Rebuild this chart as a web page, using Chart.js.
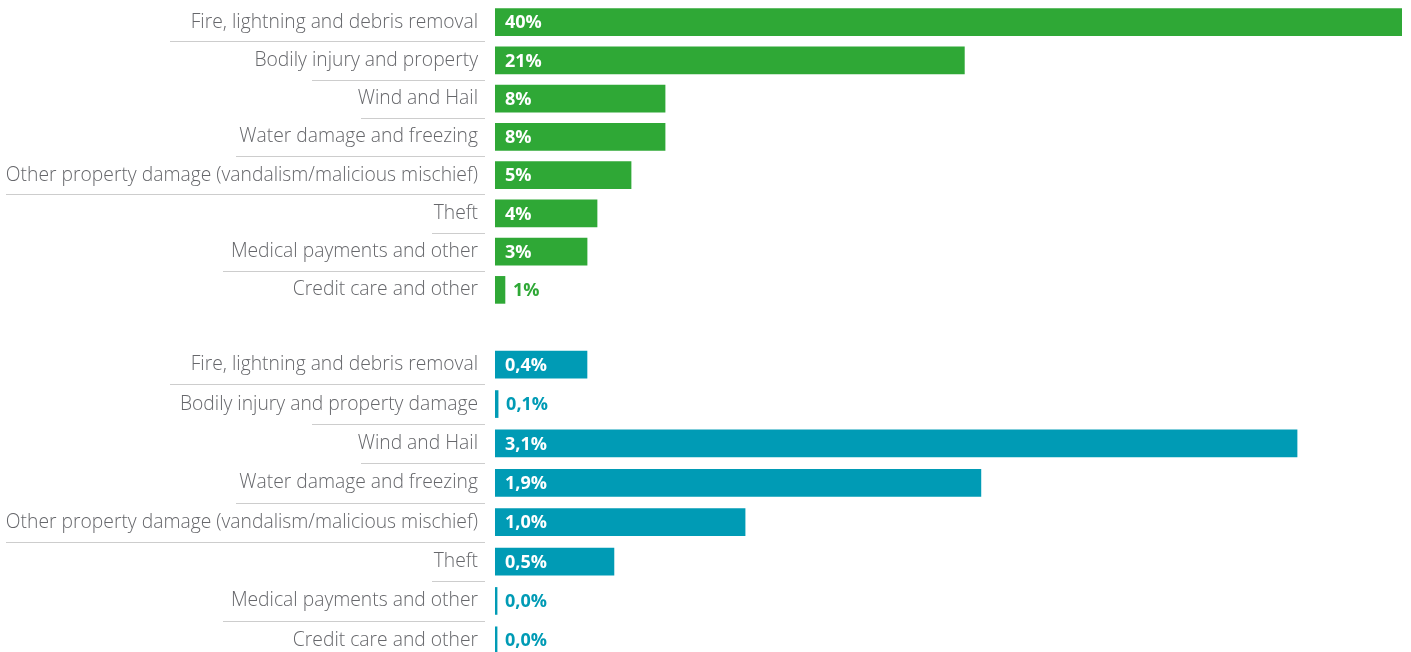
<!DOCTYPE html>
<html>
<head>
<meta charset="utf-8">
<script src="https://cdn.jsdelivr.net/npm/chart.js@4"></script>
<style>
  html, body { margin: 0; padding: 0; background: #fff; overflow: hidden; }
  #wrap { position: relative; width: 1411px; height: 652px; }
  #topChart { position: absolute; left: 0; top: 0; }
  #bottomChart { position: absolute; left: 0; top: 345px; }
</style>
</head>
<body>
<div id="wrap">
  <canvas id="topChart" width="1411" height="312"></canvas>
  <canvas id="bottomChart" width="1411" height="316"></canvas>
</div>
<script>
// categorias (grupo de cima e de baixo)
const topLabels = [
  'Fire, lightning and debris removal',
  'Bodily injury and property',
  'Wind and Hail',
  'Water damage and freezing',
  'Other property damage (vandalism/malicious mischief)',
  'Theft',
  'Medical payments and other',
  'Credit care and other'
];
const bottomLabels = [
  'Fire, lightning and debris removal',
  'Bodily injury and property damage',
  'Wind and Hail',
  'Water damage and freezing',
  'Other property damage (vandalism/malicious mischief)',
  'Theft',
  'Medical payments and other',
  'Credit care and other'
];

// comprimento das barras (em %)
const topValues = [40, 20.7, 7.5, 7.5, 6.0, 4.5, 4.06, 0.44];
const bottomValues = [0.355, 0.012, 3.095, 1.875, 0.965, 0.459, 0.008, 0.008];

// texto mostrado em cada barra
const topValueText = ['40%', '21%', '8%', '8%', '5%', '4%', '3%', '1%'];
const bottomValueText = ['0,4%', '0,1%', '3,1%', '1,9%', '1,0%', '0,5%', '0,0%', '0,0%'];

// maximo do eixo x de cada grupo
const topMax = 40;
const bottomMax = 3.5;

// estilos
const GREEN = '#2fa836';
const TEAL = '#009bb5';
const LABEL_COLOR = '#66676b';
const RULE_COLOR = '#cdcdcd';
// inicio (x) das linhas separadoras abaixo de cada rotulo
const ruleLeft = [170, 312, 361, 236, 6, 432, 223];
const ruleRight = 485;

// linhas cinzas entre os rotulos
const separatorPlugin = {
  id: 'separators',
  afterDraw(chart) {
    const ctx = chart.ctx;
    const y = chart.scales.y;
    ctx.save();
    ctx.strokeStyle = RULE_COLOR;
    ctx.lineWidth = 1;
    for (let i = 0; i < ruleLeft.length; i++) {
      const yy = Math.round((y.getPixelForValue(i) + y.getPixelForValue(i + 1)) / 2) + 0.5;
      ctx.beginPath();
      ctx.moveTo(ruleLeft[i], yy);
      ctx.lineTo(ruleRight, yy);
      ctx.stroke();
    }
    ctx.restore();
  }
};

// valores escritos dentro (branco) ou fora (cor da barra)
const valueLabelPlugin = {
  id: 'valueLabels',
  afterDatasetsDraw(chart, args, opts) {
    const ctx = chart.ctx;
    const meta = chart.getDatasetMeta(0);
    ctx.save();
    ctx.font = 'bold 18px "Open Sans", sans-serif';
    ctx.textBaseline = 'middle';
    ctx.textAlign = 'left';
    meta.data.forEach((bar, i) => {
      const txt = opts.texts[i];
      const w = bar.x - bar.base;
      if (w > 50) {
        ctx.fillStyle = '#ffffff';
        ctx.fillText(txt, bar.base + 10, bar.y + 1);
      } else {
        ctx.fillStyle = opts.color;
        ctx.fillText(txt, bar.x + 8, bar.y + 1);
      }
    });
    ctx.restore();
  }
};

function makeChart(canvasId, labels, values, texts, color, max, padTop, padBottom) {
  return new Chart(document.getElementById(canvasId).getContext('2d'), {
    type: 'bar',
    data: {
      labels: labels,
      datasets: [{
        data: values,
        backgroundColor: color,
        barThickness: 27,
        borderWidth: 0
      }]
    },
    options: {
      indexAxis: 'y',
      responsive: false,
      maintainAspectRatio: false,
      animation: false,
      layout: { padding: { top: padTop, bottom: padBottom, right: 9, left: 0 } },
      plugins: {
        legend: { display: false },
        tooltip: { enabled: false },
        valueLabels: { texts: texts, color: color }
      },
      scales: {
        x: { display: false, min: 0, max: max },
        y: {
          afterFit(scale) {
            // largura fixa do eixo e sem folga extra em cima/baixo
            scale.width = 495;
            scale.paddingTop = 0;
            scale.paddingBottom = 0;
          },
          grid: { display: false, drawTicks: false },
          border: { display: false },
          ticks: {
            padding: 17,
            color: LABEL_COLOR,
            font: { family: '"Open Sans", sans-serif', size: 19.3, weight: 300 }
          }
        }
      }
    },
    plugins: [separatorPlugin, valueLabelPlugin]
  });
}

const topChart = makeChart('topChart', topLabels, topValues, topValueText, GREEN, topMax, 3, 3);
const bottomChart = makeChart('bottomChart', bottomLabels, bottomValues, bottomValueText, TEAL, bottomMax, 0, 1);
</script>
</body>
</html>
